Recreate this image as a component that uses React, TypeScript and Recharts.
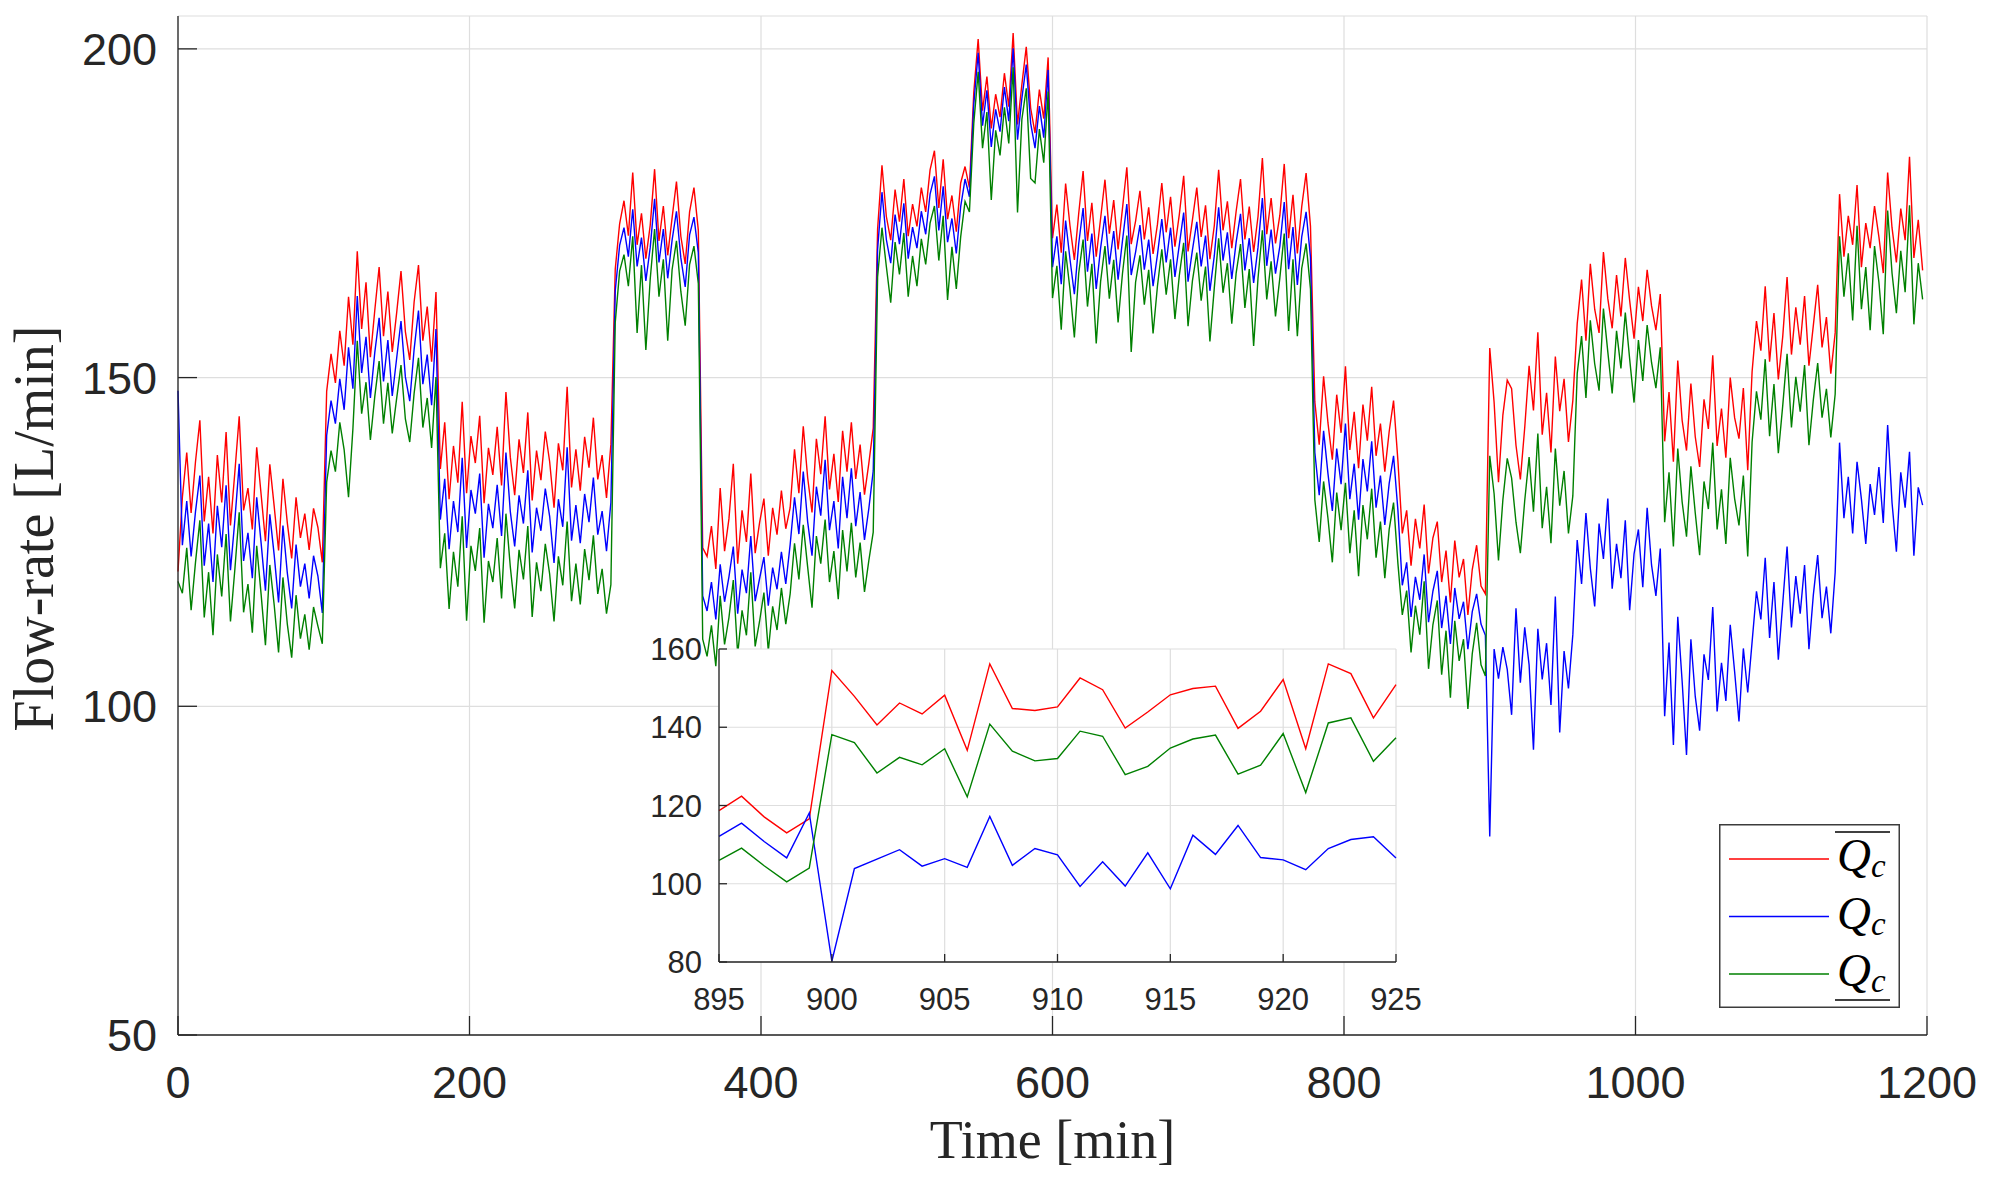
import { LineChart, Line, XAxis, YAxis, CartesianGrid, Legend } from 'recharts';

// sampling step of the main trace, minutes
const STEP_MIN = 3;

// upper estimate (red), one value every 3 min from t = 0
const qUpper = [
  // 0-99
  120.5, 131.8, 138.6, 129.4, 137.2, 143.5, 128.1, 134.9, 126.3, 138.2, 131.0, 141.7, 127.5, 135.6, 144.1, 129.8, 133.2,
  126.9, 139.4, 132.3, 125.1, 136.8, 130.4, 123.7, 134.6, 127.9, 122.5, 131.8, 125.6, 129.3, 123.8, 130.1, 127.2, 121.9,
  // 102-177
  147.9, 153.6, 149.2, 157.1, 151.8, 162.3, 155.0, 169.2, 157.4, 164.5, 153.1, 160.2, 166.8, 156.3, 163.1, 153.9, 159.8,
  166.2, 157.0, 152.7, 161.5, 167.1, 155.6, 160.8, 152.4, 163.0,
  // 180-297
  136.1, 143.2, 131.5, 139.6, 134.0, 146.3, 132.4, 141.1, 137.0, 144.2, 130.9, 139.3, 135.2, 142.5, 133.6, 147.8, 137.9,
  132.1, 140.6, 135.5, 144.7, 131.3, 138.9, 134.4, 141.8, 137.2, 130.2, 140.0, 135.9, 148.6, 133.3, 139.1, 132.8, 141.0,
  136.3, 143.9, 134.5, 138.2, 131.7, 139.8,
  // 300-357
  166.5, 173.4, 176.9, 171.6, 181.2, 170.2, 175.0, 168.1, 173.2, 181.7, 170.8, 176.1, 168.6, 174.3, 179.8, 171.5, 167.3,
  175.2, 178.9, 172.4,
  // 360-417
  124.1, 122.8, 127.4, 120.9, 133.2, 123.6, 128.5, 136.9, 121.7, 129.8, 125.0, 135.4, 123.3, 127.9, 131.6, 122.9, 130.2,
  126.1, 132.8, 127.0,
  // 420-477
  130.2, 139.1, 132.4, 142.6, 134.8, 129.5, 140.7, 135.3, 144.1, 133.0, 138.4, 131.1, 141.9, 135.7, 143.2, 134.6, 139.8,
  132.2, 137.0, 142.3,
  // 480-537
  172.6, 182.3, 174.5, 170.9, 178.6, 173.7, 180.2, 171.5, 176.4, 173.0, 178.9, 175.2, 181.6, 184.5, 175.8, 183.2, 174.1,
  177.7, 172.2, 179.6,
  // 540-597
  182.1, 178.9, 193.4, 201.5, 190.6, 195.8, 187.9, 193.1, 189.6, 196.3, 191.2, 202.4, 188.5, 194.6, 200.3, 191.0, 187.2,
  193.8, 189.4, 198.7,
  // 600-777
  171.2, 176.3, 169.0, 179.5, 173.1, 167.9, 175.0, 181.4, 170.8, 176.6, 168.4, 174.2, 180.1, 171.9, 177.0, 169.5, 175.7,
  182.0, 170.3, 173.8, 178.4, 171.0, 175.9, 168.8, 173.3, 179.6, 172.1, 177.5, 169.9, 174.8, 180.7, 169.2, 174.0, 178.9,
  171.4, 176.2, 168.0, 173.1, 181.6, 172.4, 176.8, 169.7, 175.3, 180.2, 171.0, 176.0, 169.1, 174.5, 183.4, 171.8, 177.3,
  170.4, 174.7, 182.5, 171.2, 177.8, 168.9, 176.0, 181.1, 173.0,
  // 780-837
  146.3, 139.8, 150.2, 143.1, 137.5, 147.4, 141.6, 151.7, 139.0, 144.8, 136.2, 145.9, 140.4, 148.6, 138.1, 143.0, 135.7,
  141.8, 146.5, 137.3,
  // 840-897
  126.3, 129.8, 121.4, 128.5, 124.0, 130.7, 120.2, 125.6, 128.1, 118.9, 123.7, 115.8, 125.2, 119.6, 122.4, 113.9, 120.8,
  124.5, 118.3, 117.1,
  // 900-957
  154.5, 146.2, 134.1, 144.3, 149.6, 148.3, 139.7, 134.5, 142.4, 151.8, 145.0, 156.9, 141.3, 147.7, 138.6, 153.2, 144.9,
  149.8, 140.2, 146.5,
  // 960-1017
  158.2, 164.9, 155.6, 167.3, 160.4, 156.8, 169.1, 162.0, 157.5, 165.6, 159.3, 168.2, 161.7, 155.9, 163.8, 158.6, 166.4,
  160.9, 157.2, 162.7,
  // 1020-1077
  140.3, 147.8, 137.2, 152.6, 143.5, 138.9, 149.1, 141.0, 136.4, 146.7, 142.2, 153.4, 139.6, 145.3, 137.8, 150.0, 143.9,
  140.7, 148.4, 135.9,
  // 1080-1137
  150.9, 158.6, 154.1, 163.9, 152.4, 159.8, 149.7, 156.2, 165.3, 153.5, 160.7, 155.0, 162.4, 151.8, 157.9, 164.1, 154.6,
  159.2, 150.6, 156.8,
  // 1140-1197
  177.9, 168.4, 174.6, 170.2, 179.3, 166.8, 173.5, 169.7, 176.1, 171.4, 165.9, 181.2, 172.8, 167.5, 175.7, 170.9, 183.6,
  168.2, 174.0, 166.3,
];

// measured flow (blue)
const qMid = [
  148.0, 124.5, 131.2, 122.8, 129.6, 135.1, 121.4, 127.8, 118.9, 130.5, 124.2, 133.6, 120.7, 128.3, 136.9, 122.1, 126.4,
  119.5, 131.8, 124.9, 117.6, 129.2, 123.0, 115.8, 127.5, 120.3, 114.9, 124.6, 118.2, 121.7, 116.4, 122.9, 119.8, 114.2,
  141.2, 146.5, 143.0, 149.8, 145.1, 154.6, 148.3, 162.4, 150.7, 156.2, 146.9, 153.8, 159.1, 149.4, 155.7, 147.2, 152.9,
  158.6, 150.1, 146.4, 154.3, 160.2, 149.0, 153.5, 145.8, 157.4,
  128.4, 134.6, 123.9, 131.2, 126.5, 137.8, 124.1, 132.9, 129.3, 135.4, 122.6, 130.8, 127.1, 133.7, 125.9, 138.6, 129.6,
  124.3, 132.1, 127.8, 135.9, 123.4, 130.2, 126.7, 133.1, 128.9, 121.8, 131.5, 127.3, 139.4, 125.2, 130.6, 124.8, 132.3,
  128.0, 134.8, 126.1, 129.7, 123.6, 131.0,
  163.2, 170.1, 172.8, 168.4, 175.6, 166.9, 171.3, 164.7, 169.8, 177.2, 167.5, 172.6, 165.1, 170.9, 175.3, 168.2, 163.8,
  171.7, 174.4, 169.0,
  116.8, 114.5, 118.9, 113.2, 121.6, 115.9, 119.7, 124.3, 114.1, 120.8, 117.2, 125.9, 116.0, 119.4, 122.7, 115.3, 121.1,
  117.8, 123.5, 118.6,
  124.6, 131.8, 126.2, 135.7, 128.1, 122.9, 133.4, 129.0, 137.5, 126.8, 131.2, 124.0, 134.9, 128.6, 136.2, 127.4, 132.6,
  125.3, 130.1, 135.8,
  169.5, 178.2, 171.0, 167.4, 174.8, 170.3, 176.5, 168.1, 172.9, 169.7, 175.3, 171.8, 177.9, 180.6, 172.4, 179.1, 170.6,
  174.2, 168.9, 176.0,
  180.2, 177.5, 191.6, 199.4, 188.3, 193.7, 185.1, 190.8, 187.4, 194.2, 189.0, 200.1, 186.2, 192.5, 197.6, 188.7, 184.9,
  191.3, 186.5, 196.8,
  166.8, 171.5, 164.2, 173.9, 168.0, 162.7, 170.4, 175.8, 166.1, 171.9, 163.5, 169.7, 174.6, 167.2, 172.3, 164.9, 170.8,
  176.4, 165.6, 169.1, 173.2, 166.4, 171.0, 163.9, 168.7, 174.1, 167.5, 172.8, 165.3, 170.2, 175.1, 164.6, 169.4, 173.7,
  166.9, 171.6, 163.2, 168.5, 175.9, 167.8, 172.1, 165.0, 170.6, 174.9, 166.3, 171.2, 164.4, 169.8, 177.3, 167.0, 172.5,
  165.8, 170.0, 176.7, 166.5, 172.9, 164.1, 171.4, 175.2, 168.3,
  138.6, 132.1, 141.9, 135.4, 129.7, 139.2, 133.8, 143.0, 131.5, 136.9, 128.4, 137.6, 132.7, 140.3, 130.2, 135.1, 127.6,
  133.9, 138.1, 129.8,
  118.4, 121.9, 113.6, 119.7, 116.2, 123.1, 112.8, 117.5, 120.6, 111.9, 116.8, 109.5, 118.0, 113.3, 115.9, 108.7, 114.4,
  117.1, 112.5, 110.8,
  80.2, 108.7, 104.2, 109.0, 105.6, 98.7, 114.9, 103.6, 112.0, 106.3, 93.4, 111.8, 104.1, 109.6, 100.2, 116.7, 96.0,
  108.4, 102.7, 110.9,
  125.3, 118.6, 129.4, 121.0, 115.2, 127.8, 122.4, 131.6, 117.9, 124.7, 119.5, 128.3, 114.6, 123.2, 126.9, 118.1, 130.2,
  121.5, 116.8, 124.0,
  98.5, 109.7, 94.1, 113.6, 103.8, 92.6, 110.2, 101.5, 96.3, 107.9, 104.0, 115.1, 99.2, 106.6, 100.8, 112.4, 105.3,
  97.7, 108.8, 102.1,
  109.8, 117.5, 113.2, 122.6, 110.4, 118.9, 107.1, 115.6, 124.3, 112.0, 119.8, 114.1, 121.5, 108.7, 116.9, 123.0, 113.4,
  118.2, 111.1, 120.4,
  140.1, 128.6, 134.9, 126.3, 137.2, 131.5, 124.7, 133.8, 129.1, 136.4, 127.9, 142.8, 131.0, 123.5, 135.6, 130.2, 138.7,
  122.9, 133.3, 130.6,
];

// lower estimate (green)
const qLower = [
  119.0, 117.2, 124.1, 114.6, 121.9, 128.3, 113.5, 120.4, 110.8, 123.1, 116.7, 126.2, 112.9, 120.8, 129.5, 114.3, 118.6,
  111.2, 124.4, 117.1, 109.3, 121.5, 115.4, 108.2, 119.6, 112.5, 107.4, 116.9, 110.3, 114.0, 108.6, 115.1, 112.2, 109.5,
  134.1, 138.9, 135.7, 143.2, 139.0, 131.8, 142.2, 155.6, 144.5, 149.3, 140.5, 147.1, 152.5, 143.0, 149.2, 141.5, 146.8,
  151.9, 143.7, 140.2, 147.6, 153.0, 142.4, 146.9, 139.3, 150.1,
  121.0, 126.3, 114.8, 123.5, 118.2, 128.9, 113.0, 124.4, 120.6, 127.1, 112.7, 122.1, 118.9, 125.6, 116.4, 129.3, 121.2,
  114.9, 123.8, 119.3, 127.4, 113.6, 121.9, 117.5, 124.7, 120.1, 112.9, 122.8, 118.4, 128.1, 116.0, 121.7, 115.5, 123.9,
  119.2, 126.0, 117.1, 120.9, 114.1, 118.5,
  158.4, 166.2, 168.7, 163.9, 171.5, 156.8, 167.1, 154.2, 165.0, 172.6, 162.3, 168.0, 155.6, 166.4, 170.8, 163.1, 157.9,
  167.2, 170.0, 164.3,
  110.2, 107.6, 112.3, 106.1, 116.8, 109.4, 113.5, 119.2, 107.9, 114.6, 110.8, 120.4, 109.1, 112.9, 117.3, 108.4, 115.2,
  111.6, 118.0, 112.5,
  117.1, 124.8, 119.3, 127.6, 121.2, 115.0, 125.9, 121.7, 128.4, 118.9, 123.6, 116.3, 126.8, 120.5, 127.9, 119.6, 124.9,
  117.4, 122.2, 126.5,
  165.3, 172.8, 166.9, 161.4, 170.6, 165.7, 172.0, 162.3, 168.5, 163.9, 171.1, 167.2, 173.5, 176.1, 167.8, 174.6, 161.8,
  169.9, 163.5, 171.4,
  176.8, 175.2, 188.7, 196.5, 184.9, 190.4, 177.0, 187.6, 183.8, 191.1, 185.6, 197.2, 175.1, 189.3, 194.0, 180.3, 179.6,
  187.8, 182.7, 193.5,
  162.1, 167.0, 157.3, 169.2, 163.4, 156.1, 165.9, 171.0, 160.8, 167.3, 155.2, 164.6, 170.0, 162.0, 167.9, 158.4, 165.8,
  171.6, 153.9, 164.5, 168.6, 161.1, 166.4, 156.7, 163.9, 169.5, 162.6, 168.0, 158.9, 165.5, 170.5, 157.8, 164.7, 169.0,
  161.7, 166.9, 155.5, 163.6, 171.2, 162.9, 167.4, 158.2, 165.9, 170.3, 160.6, 166.5, 154.8, 165.1, 172.4, 161.9, 167.7,
  159.3, 165.2, 171.9, 157.1, 168.0, 156.3, 166.6, 170.4, 163.5,
  131.4, 125.0, 134.2, 128.6, 121.9, 132.5, 126.8, 134.0, 123.3, 129.8, 119.8, 130.6, 125.4, 133.1, 122.6, 128.1, 119.5,
  126.9, 131.0, 121.7,
  113.9, 117.6, 108.2, 115.3, 110.9, 119.0, 105.7, 112.4, 116.1, 104.8, 111.5, 101.3, 113.0, 106.9, 110.2, 99.6, 108.0,
  112.7, 106.3, 104.6,
  138.1, 132.3, 122.2, 131.4, 137.7, 134.7, 128.0, 123.3, 131.3, 137.9, 129.6, 141.5, 127.1, 133.4, 124.8, 139.2, 130.5,
  135.8, 126.3, 132.0,
  150.6, 156.3, 146.9, 158.7, 152.1, 148.0, 160.5, 153.9, 147.6, 157.1, 151.4, 159.9, 152.8, 146.2, 155.7, 149.5, 158.0,
  152.3, 148.4, 154.6,
  128.0, 135.6, 124.3, 139.2, 131.1, 125.8, 136.5, 129.4, 123.0, 134.2, 130.0, 140.1, 126.9, 133.0, 124.7, 137.8, 131.6,
  127.5, 135.1, 122.8,
  140.2, 147.9, 143.6, 152.8, 141.1, 149.0, 138.5, 145.7, 153.6, 142.4, 150.1, 144.8, 151.9, 139.7, 146.6, 152.2, 143.9,
  148.3, 140.9, 147.5,
  171.5, 162.3, 168.9, 158.7, 173.1, 160.4, 166.8, 157.2, 170.0, 164.5, 156.6, 175.4, 165.9, 159.8, 169.3, 163.0, 176.2,
  158.1, 167.4, 161.9,
];

const mainTicksX = [0, 200, 400, 600, 800, 1000, 1200];
const mainTicksY = [50, 100, 150, 200];

// zoomed window 895-925 min, one value per minute
const insetTime = [
  895, 896, 897, 898, 899, 900, 901, 902, 903, 904, 905, 906, 907, 908, 909, 910, 911, 912, 913, 914, 915, 916, 917, 918,
  919, 920, 921, 922, 923, 924, 925,
];
const insetUpper = [
  118.7, 122.4, 117.1, 113.0, 116.6, 154.5, 147.9, 140.6, 146.2, 143.4, 148.2, 134.1, 156.2, 144.8, 144.3, 145.2, 152.6,
  149.6, 139.8, 143.9, 148.3, 149.9, 150.5, 139.7, 144.1, 152.2, 134.5, 156.2, 153.7, 142.4, 150.9,
];
const insetMid = [
  112.1, 115.5, 110.8, 106.6, 118.1, 80.2, 103.9, 106.3, 108.7, 104.5, 106.4, 104.2, 117.2, 104.7, 109.0, 107.4, 99.3,
  105.6, 99.4, 107.9, 98.7, 112.4, 107.5, 114.9, 106.7, 106.1, 103.6, 109.0, 111.3, 112.0, 106.6,
];
const insetLower = [
  106.0, 109.1, 104.6, 100.5, 104.0, 138.1, 136.1, 128.3, 132.3, 130.4, 134.5, 122.2, 140.8, 133.9, 131.4, 132.0, 139.0,
  137.7, 127.9, 130.0, 134.7, 137.0, 138.0, 128.0, 130.3, 138.4, 123.3, 141.1, 142.4, 131.3, 137.3,
];
const insetTicksX = [895, 900, 905, 910, 915, 920, 925];
const insetTicksY = [80, 100, 120, 140, 160];

const mainData = qUpper.map((v, i) => ({ t: i * STEP_MIN, upper: v, mid: qMid[i], lower: qLower[i] }));
const insetData = insetTime.map((t, i) => ({ t, upper: insetUpper[i], mid: insetMid[i], lower: insetLower[i] }));

const AX = '#262626';
const GRID = '#dedede';
const SANS = "'Liberation Sans', Arial, Helvetica, sans-serif";
const SERIF = "'Liberation Serif', 'Times New Roman', serif";

const seriesOrder = ['upper', 'mid', 'lower'];
const seriesMark: Record<string, string> = { upper: 'over', mid: 'none', lower: 'under' };

function QcLegend({ payload }: any) {
  const items = [...(payload || [])].sort(
    (a: any, b: any) => seriesOrder.indexOf(a.dataKey) - seriesOrder.indexOf(b.dataKey)
  );
  return (
    <svg width={181} height={184} style={{ display: 'block' }}>
      <rect x={0.75} y={0.75} width={179.5} height={182.5} fill="#fff" stroke="#3c3c3c" strokeWidth={1.5} />
      {items.map((it: any, i: number) => {
        const y = 35 + i * 57.5;
        const mark = seriesMark[it.dataKey];
        return (
          <g key={it.dataKey}>
            <line x1={10} x2={110} y1={y} y2={y} stroke={it.color} strokeWidth={1.6} />
            <text x={118} y={y + 12} fontFamily={SERIF} fontStyle="italic" fontSize={47} fill="#000">
              Q<tspan fontSize={33} dy={6}>c</tspan>
            </text>
            {mark === 'over' && <line x1={116} x2={171} y1={y - 27} y2={y - 27} stroke="#000" strokeWidth={1.6} />}
            {mark === 'under' && <line x1={116} x2={171} y1={y + 26} y2={y + 26} stroke="#000" strokeWidth={1.6} />}
          </g>
        );
      })}
    </svg>
  );
}

function XTitle({ viewBox }: any) {
  const { x = 178, y = 1035, width = 1749 } = viewBox || {};
  return (
    <text x={x + width / 2} y={y + 123} textAnchor="middle" fontFamily={SERIF} fontSize={54} fill={AX}>
      Time [min]
    </text>
  );
}

function YTitle({ viewBox }: any) {
  const { x = 0, y = 16, height = 1019 } = viewBox || {};
  const cx = x + 53;
  const cy = y + height / 2 + 3;
  return (
    <text x={cx} y={cy} transform={`rotate(-90 ${cx} ${cy})`} textAnchor="middle" fontFamily={SERIF} fontSize={56} fill={AX}>
      Flow-rate [L/min]
    </text>
  );
}

const axisStroke = { stroke: AX, strokeWidth: 1.3 };

function MainChart() {
  return (
    <LineChart width={1991} height={1185} data={mainData} margin={{ top: 16, right: 64, left: 0, bottom: 0 }}>
      <CartesianGrid xAxisId="b" yAxisId="l" stroke={GRID} strokeWidth={1.2} />
      <XAxis
        xAxisId="b"
        dataKey="t"
        type="number"
        domain={[0, 1200]}
        ticks={mainTicksX}
        interval={0}
        height={150}
        tickSize={-19}
        tickMargin={50}
        axisLine={axisStroke}
        tickLine={axisStroke}
        tick={{ fontSize: 45, fill: AX, fontFamily: SANS }}
        label={<XTitle />}
      />
      <XAxis
        xAxisId="top"
        orientation="top"
        dataKey="t"
        type="number"
        domain={[0, 1200]}
        ticks={mainTicksX}
        interval={0}
        height={0}
        tickSize={-19}
        axisLine={axisStroke}
        tickLine={axisStroke}
        tick={false}
      />
      <YAxis
        yAxisId="l"
        type="number"
        domain={[50, 205]}
        ticks={mainTicksY}
        interval={0}
        width={178}
        tickSize={-19}
        tickMargin={40}
        axisLine={axisStroke}
        tickLine={axisStroke}
        tick={{ fontSize: 45, fill: AX, fontFamily: SANS }}
        label={<YTitle />}
      />
      <YAxis
        yAxisId="r"
        orientation="right"
        type="number"
        domain={[50, 205]}
        ticks={mainTicksY}
        interval={0}
        width={0}
        tickSize={-19}
        axisLine={axisStroke}
        tickLine={axisStroke}
        tick={false}
      />
      <Legend
        verticalAlign="middle"
        align="center"
        content={<QcLegend />}
        wrapperStyle={{ left: 1719, top: 824, width: 181, height: 184 }}
      />
      <Line xAxisId="b" yAxisId="l" type="linear" dataKey="upper" name="upper" stroke="#ff0000" strokeWidth={1.4}
        dot={false} activeDot={false} isAnimationActive={false} />
      <Line xAxisId="b" yAxisId="l" type="linear" dataKey="mid" name="mid" stroke="#0000ff" strokeWidth={1.4}
        dot={false} activeDot={false} isAnimationActive={false} />
      <Line xAxisId="b" yAxisId="l" type="linear" dataKey="lower" name="lower" stroke="#008000" strokeWidth={1.4}
        dot={false} activeDot={false} isAnimationActive={false} />
    </LineChart>
  );
}

function InsetChart() {
  const insetTick = { fontSize: 31, fill: AX, fontFamily: SANS };
  return (
    <LineChart width={797} height={393} data={insetData} margin={{ top: 20, right: 40, left: 0, bottom: 0 }}>
      <CartesianGrid xAxisId="b" yAxisId="l" stroke={GRID} strokeWidth={1.2} fill="#fff" />
      <XAxis
        xAxisId="b"
        dataKey="t"
        type="number"
        domain={[895, 925]}
        ticks={insetTicksX}
        interval={0}
        height={60}
        tickSize={-8}
        tickMargin={34}
        axisLine={axisStroke}
        tickLine={axisStroke}
        tick={insetTick}
      />
      <XAxis
        xAxisId="top"
        orientation="top"
        dataKey="t"
        type="number"
        domain={[895, 925]}
        ticks={insetTicksX}
        interval={0}
        height={0}
        tickSize={-8}
        axisLine={axisStroke}
        tickLine={axisStroke}
        tick={false}
      />
      <YAxis
        yAxisId="l"
        type="number"
        domain={[80, 160]}
        ticks={insetTicksY}
        interval={0}
        width={80}
        tickSize={-8}
        tickMargin={25}
        axisLine={axisStroke}
        tickLine={axisStroke}
        tick={insetTick}
      />
      <YAxis
        yAxisId="r"
        orientation="right"
        type="number"
        domain={[80, 160]}
        ticks={insetTicksY}
        interval={0}
        width={0}
        tickSize={-8}
        axisLine={axisStroke}
        tickLine={axisStroke}
        tick={false}
      />
      <Line xAxisId="b" yAxisId="l" type="linear" dataKey="upper" stroke="#ff0000" strokeWidth={1.4}
        dot={false} activeDot={false} isAnimationActive={false} />
      <Line xAxisId="b" yAxisId="l" type="linear" dataKey="mid" stroke="#0000ff" strokeWidth={1.4}
        dot={false} activeDot={false} isAnimationActive={false} />
      <Line xAxisId="b" yAxisId="l" type="linear" dataKey="lower" stroke="#008000" strokeWidth={1.4}
        dot={false} activeDot={false} isAnimationActive={false} />
    </LineChart>
  );
}

export default function App() {
  return (
    <div style={{ position: 'absolute', left: 0, top: 0, width: 1991, height: 1185, background: '#fff' }}>
      <div style={{ position: 'absolute', left: 0, top: 0 }}>
        <MainChart />
      </div>
      <div style={{ position: 'absolute', left: 639, top: 629 }}>
        <InsetChart />
      </div>
    </div>
  );
}
